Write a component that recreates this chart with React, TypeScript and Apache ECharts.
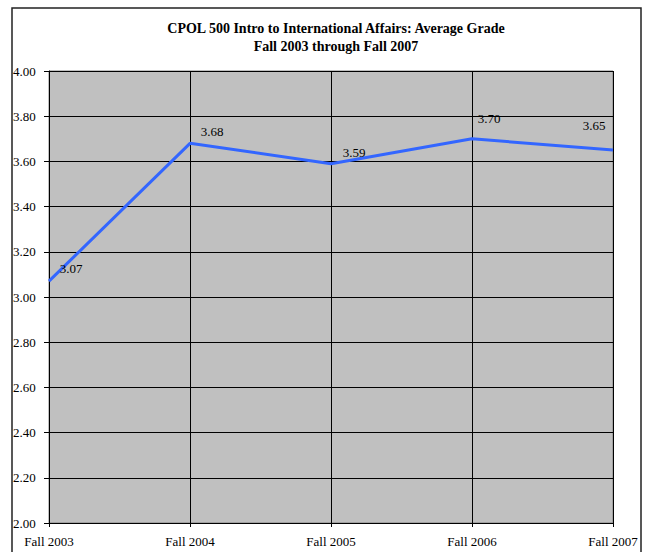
import React, { useEffect, useRef } from "react";
import * as echarts from "echarts";

const categories = ["Fall 2003", "Fall 2004", "Fall 2005", "Fall 2006", "Fall 2007"];
const grades = [3.07, 3.68, 3.59, 3.7, 3.65];
const labelOffsets: [number, number][] = [
  [22, -13],
  [22, -12],
  [23, -11],
  [17, -20],
  [-19, -25],
];
const titleLines = ["CPOL 500 Intro to International Affairs: Average Grade", "Fall 2003 through Fall 2007"];

const FONT = "'Liberation Serif', 'Times New Roman', serif";

export default function App() {
  const ref = useRef<HTMLDivElement>(null);
  useEffect(() => {
    if (!ref.current) return;
    const chart = echarts.init(ref.current, undefined, { renderer: "svg" });
    chart.setOption({
      animation: false,
      backgroundColor: "#ffffff",
      textStyle: { fontFamily: FONT },
      title: {
        text: titleLines.join("\n"),
        left: 331,
        textAlign: "center",
        top: 14,
        textStyle: {
          fontFamily: FONT,
          fontSize: 14,
          fontWeight: "bold",
          color: "#000",
          lineHeight: 18,
        },
      },
      graphic: [
        {
          type: "rect",
          shape: { x: 12, y: 8, width: 629, height: 600 },
          style: { fill: "none", stroke: "#222", lineWidth: 1.5 },
          z: 100,
        },
        {
          type: "rect",
          shape: { x: 49, y: 71, width: 564, height: 452 },
          style: { fill: "#c0c0c0", stroke: "#808080", lineWidth: 1 },
          z: -10,
        },
      ],
      grid: { left: 49, right: 36, top: 71, height: 452, containLabel: false },
      xAxis: {
        type: "category",
        data: categories,
        boundaryGap: false,
        axisLine: { show: true, lineStyle: { color: "#000", width: 1 } },
        axisTick: { show: true, length: 4, alignWithLabel: true, lineStyle: { color: "#000" } },
        axisLabel: { color: "#000", fontFamily: FONT, fontSize: 13, margin: 12 },
        splitLine: { show: true, lineStyle: { color: "#000", width: 1 } },
      },
      yAxis: {
        type: "value",
        min: 2,
        max: 4,
        interval: 0.2,
        axisLine: { show: true, lineStyle: { color: "#000", width: 1 } },
        axisTick: { show: true, length: 5, lineStyle: { color: "#000" } },
        axisLabel: {
          color: "#000",
          fontFamily: FONT,
          fontSize: 13,
          align: "left",
          margin: 36,
          formatter: (v: number) => v.toFixed(2),
        },
        splitLine: { show: true, lineStyle: { color: "#000", width: 1 } },
      },
      series: [
        {
          type: "line",
          data: grades.map((v, i) => ({
            value: v,
            label: { offset: labelOffsets[i] },
          })),
          symbol: "circle",
          symbolSize: 1,
          showSymbol: true,
          itemStyle: { color: "rgba(51,102,255,0)", borderWidth: 0 },
          lineStyle: { color: "#3366ff", width: 3 },
          label: {
            show: true,
            position: "inside",
            color: "#000",
            fontFamily: FONT,
            fontSize: 13,
            formatter: (p: any) => Number(p.value).toFixed(2),
          },
          z: 5,
        },
      ],
    });
    return () => chart.dispose();
  }, []);
  return (
    <div
      ref={ref}
      style={{ position: "absolute", left: 0, top: 0, width: 649, height: 552 }}
    />
  );
}
